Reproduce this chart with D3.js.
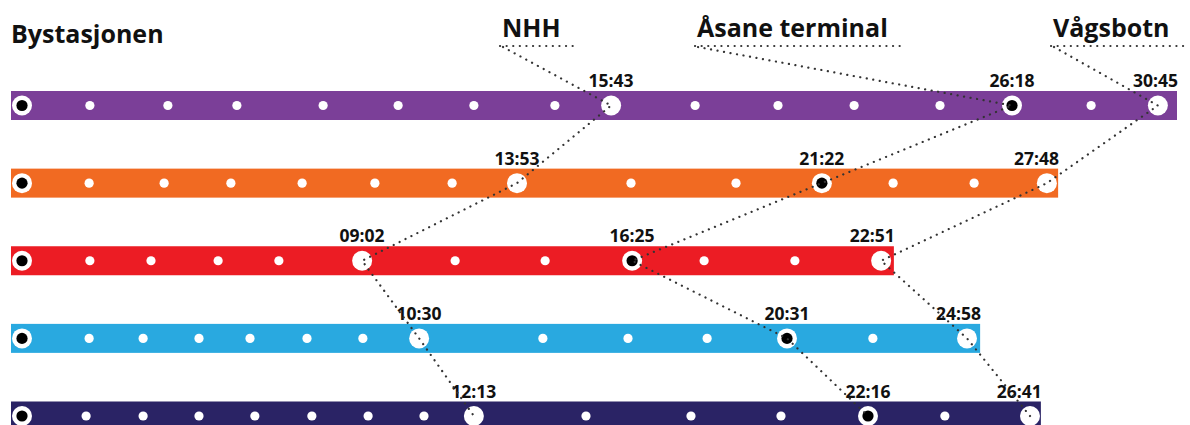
<!DOCTYPE html>
<html>
<head>
<meta charset="utf-8">
<script src="https://cdn.jsdelivr.net/npm/d3@7"></script>
<style>
  body { margin: 0; background: #fff; }
  text { font-family: "Open Sans", sans-serif; font-weight: 700; fill: #111; }
</style>
</head>
<body>
<svg id="chart" width="1190" height="425"></svg>
<script>
// bus lines, top to bottom
var lines = ["lilla", "oransje", "rød", "blå", "mørkeblå"];
var lineColors = ["#7b3f98", "#f16a22", "#ec1c24", "#29a9e0", "#2a2365"];

// stop positions along each line, minutes from Bystasjonen
var stopsLilla    = [0, 1.81, 3.89, 5.73, 8.03, 10.03, 12.05, 14.21, 15.71, 17.95, 20.16, 22.19, 24.48, 26.4, 28.51, 30.29];
var stopsOransje  = [0, 1.79, 3.79, 5.57, 7.47, 9.41, 11.47, 13.2, 16.24, 19.04, 21.33, 23.23, 25.39, 27.33];
var stopsRod      = [0, 1.81, 3.44, 5.23, 6.85, 9.07, 11.55, 13.95, 16.27, 18.19, 20.61, 22.91];
var stopsBla      = [0, 1.79, 3.23, 4.72, 6.08, 7.6, 9.09, 10.59, 13.89, 16.16, 18.27, 20.4, 22.69, 25.2];
var stopsMorkebla = [0, 1.71, 3.23, 4.72, 6.21, 7.73, 9.23, 10.72, 12.05, 15.04, 17.84, 20.24, 22.56, 24.61, 26.88];
var lineEnds = [30.8, 27.63, 23.25, 25.55, 27.17];

// key stops: which stop it is on each line, and the travel time shown
var nhhIndex = [8, 7, 5, 7, 8];
var nhhTimes = ["15:43", "13:53", "09:02", "10:30", "12:13"];
var asaneIndex = [13, 10, 8, 11, 12];
var asaneTimes = ["26:18", "21:22", "16:25", "20:31", "22:16"];
var vagsbotnTimes = ["30:45", "27:48", "22:51", "24:58", "26:41"];

var startName = "Bystasjonen";
var stopNames = ["NHH", "Åsane terminal", "Vågsbotn"];

var allStops = [stopsLilla, stopsOransje, stopsRod, stopsBla, stopsMorkebla];

var svg = d3.select("#chart");

var x = d3.scaleLinear().domain([0, 30]).range([22, 1147]);
var y = d3.scalePoint().domain(lines).range([105.5, 416]);
var barH = 29;

// one group per line
var rowData = lines.map(function(name, i) {
    var stops = allStops[i];
    return {
        name: name,
        color: lineColors[i],
        stops: stops,
        end: lineEnds[i],
        nhh: nhhIndex[i],
        asane: asaneIndex[i],
        vags: stops.length - 1
    };
});

var rows = svg.selectAll("g.row")
    .data(rowData)
    .enter()
    .append("g")
    .attr("class", "row")
    .attr("transform", function(d) { return "translate(0," + y(d.name) + ")"; });

rows.append("rect")
    .attr("x", x(0) - 11)
    .attr("y", -barH / 2)
    .attr("height", barH)
    .attr("width", function(d) { return x(d.end) - x(0) + 11; })
    .attr("fill", function(d) { return d.color; });

// stops
rows.selectAll("circle.stop")
    .data(function(d) {
        return d.stops.map(function(m, k) {
            return { m: m, kind: k == 0 ? "start" : k == d.nhh || k == d.vags ? "big" : k == d.asane ? "asane" : "small" };
        });
    })
    .enter()
    .append("circle")
    .attr("class", "stop")
    .attr("cx", function(s) { return x(s.m); })
    .attr("cy", 0)
    .attr("r", function(s) { return s.kind == "small" ? 4.6 : 10; })
    .attr("fill", "#fff");

rows.selectAll("circle.hole")
    .data(function(d) { return [d.stops[0], d.stops[d.asane]]; })
    .enter()
    .append("circle")
    .attr("class", "hole")
    .attr("cx", function(m) { return x(m); })
    .attr("cy", 0)
    .attr("r", 5.6)
    .attr("fill", "#000");

// headers
svg.append("text")
    .attr("x", 11)
    .attr("y", 43)
    .style("font-size", "25px")
    .text(startName);

var headerX = [502, 697, 1053];
var headers = svg.selectAll("text.head")
    .data(stopNames)
    .enter()
    .append("text")
    .attr("class", "head")
    .attr("x", function(d, i) { return headerX[i]; })
    .attr("y", 37)
    .style("font-size", "25px")
    .text(function(d) { return d; });

var dotted = function(sel) {
    sel.attr("fill", "none")
        .attr("stroke", "#333")
        .attr("stroke-width", 2.2)
        .attr("stroke-linecap", "round")
        .attr("stroke-dasharray", "0.1,6.5");
};

headers.each(function(d, i) {
    var w = this.getComputedTextLength();
    svg.append("line")
        .attr("x1", headerX[i] - 2)
        .attr("x2", headerX[i] + w + 15)
        .attr("y1", 46)
        .attr("y2", 46)
        .call(dotted);
});

// connectors through the key stop on every line
var connector = d3.line();
var keys = ["nhh", "asane", "vags"];
keys.forEach(function(key, i) {
    var pts = [[headerX[i] + 1, 47]];
    rowData.forEach(function(d) {
        pts.push([x(d.stops[d[key]]), y(d.name)]);
    });
    svg.append("path")
        .attr("d", connector(pts))
        .call(dotted);
});

// time labels
rows.append("text")
    .attr("x", function(d) { return x(d.stops[d.nhh]); })
    .attr("y", -barH / 2 - 4)
    .attr("text-anchor", "middle")
    .style("font-size", "17.5px")
    .text(function(d, i) { return nhhTimes[i]; });

rows.append("text")
    .attr("x", function(d) { return x(d.stops[d.asane]); })
    .attr("y", -barH / 2 - 4)
    .attr("text-anchor", "middle")
    .style("font-size", "17.5px")
    .text(function(d, i) { return asaneTimes[i]; });

rows.append("text")
    .attr("x", function(d) { return x(d.end) + 1; })
    .attr("y", -barH / 2 - 4)
    .attr("text-anchor", "end")
    .style("font-size", "17.5px")
    .text(function(d, i) { return vagsbotnTimes[i]; });
</script>
</body>
</html>
